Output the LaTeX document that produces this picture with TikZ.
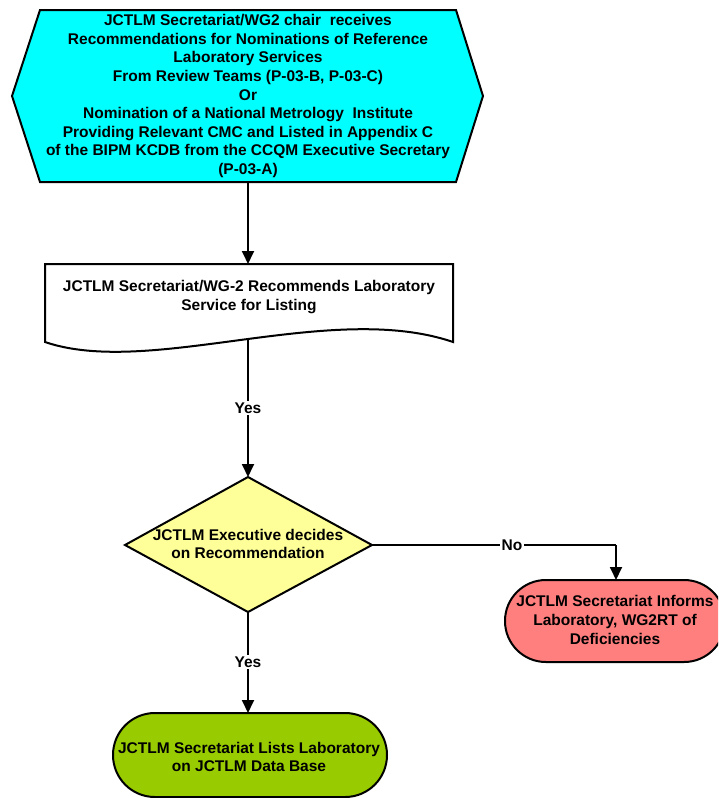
\documentclass[tikz,border=0pt]{standalone}
\usepackage{fontspec}
\setmainfont{Liberation Sans}
\usetikzlibrary{arrows.meta}
\definecolor{hexcol}{HTML}{00FFFF}
\definecolor{deccol}{HTML}{FFFF99}
\definecolor{redcol}{HTML}{FF7F7F}
\definecolor{grncol}{HTML}{99CC00}
\tikzset{
  shapeline/.style={draw=black, line width=2pt, line join=miter},
  conn/.style={draw=black, line width=1.8pt, -{Triangle[length=13pt,width=12pt]}},
  plainline/.style={draw=black, line width=1.8pt},
  txt/.style={align=center, font=\fontsize{15.5}{18.6}\selectfont\bfseries, inner sep=0pt},
  lbl/.style={fill=white, font=\fontsize{15.5}{18.6}\selectfont\bfseries, inner sep=1.5pt},
}
\begin{document}
\begin{tikzpicture}[x=1pt,y=-1pt]
\useasboundingbox (0,0) rectangle (718,798);
\clip (0,0) rectangle (718,798);
% preparation hexagon
\draw[shapeline, fill=hexcol] (40,10) -- (456,10) -- (483,96) -- (456,182) -- (40,182) -- (12,96) -- cycle;
\node[txt] (prep) at (248,96) {JCTLM Secretariat/WG2 chair\ \ receives\\Recommendations for Nominations of Reference\\Laboratory Services\\From Review Teams (P-03-B, P-03-C)\\Or\\Nomination of a National Metrology\ \ Institute\\Providing Relevant CMC and Listed in Appendix C\\of the BIPM KCDB from the CCQM Executive Secretary\\(P-03-A)};
\coordinate (prepS) at (248,182);
% document
\draw[shapeline, fill=white] (45,264) -- (453,264) -- (453,342) .. controls (330,300) and (150,378) .. (45,342) -- cycle;
\node[txt] (doc) at (249,297) {JCTLM Secretariat/WG-2 Recommends Laboratory\\Service for Listing};
\coordinate (docN) at (248,264);
\coordinate (docS) at (248,338);
% decision
\draw[shapeline, fill=deccol] (248,477) -- (372,545) -- (248,612) -- (125,545) -- cycle;
\node[txt] (dec) at (248,544) {JCTLM Executive decides\\on Recommendation};
\coordinate (decN) at (248,477);
\coordinate (decE) at (372,545);
\coordinate (decS) at (248,612);
% informs
\draw[shapeline, fill=redcol, rounded corners=40.9pt] (505,580) rectangle (725,662);
\node[txt] (inf) at (615,620) {JCTLM Secretariat Informs\\Laboratory, WG2RT of\\Deficiencies};
\coordinate (infN) at (616,580);
\coordinate (bend) at (616,545);
% lists
\draw[shapeline, fill=grncol, rounded corners=41.9pt] (113,713) rectangle (387,797);
\node[txt] (lst) at (249,757) {JCTLM Secretariat Lists Laboratory\\on JCTLM Data Base};
\coordinate (lstN) at (248,713);
% connectors
\draw[conn] (prepS) -- (docN);
\draw[conn] (docS) -- (decN);
\node[lbl] (yes1) at (248,408) {Yes};
\draw[plainline] (decE) -- (bend);
\draw[conn] (bend) -- (infN);
\node[lbl] (no) at (512,545) {No};
\draw[conn] (decS) -- (lstN);
\node[lbl] (yes2) at (248,662) {Yes};
\end{tikzpicture}
\end{document}
